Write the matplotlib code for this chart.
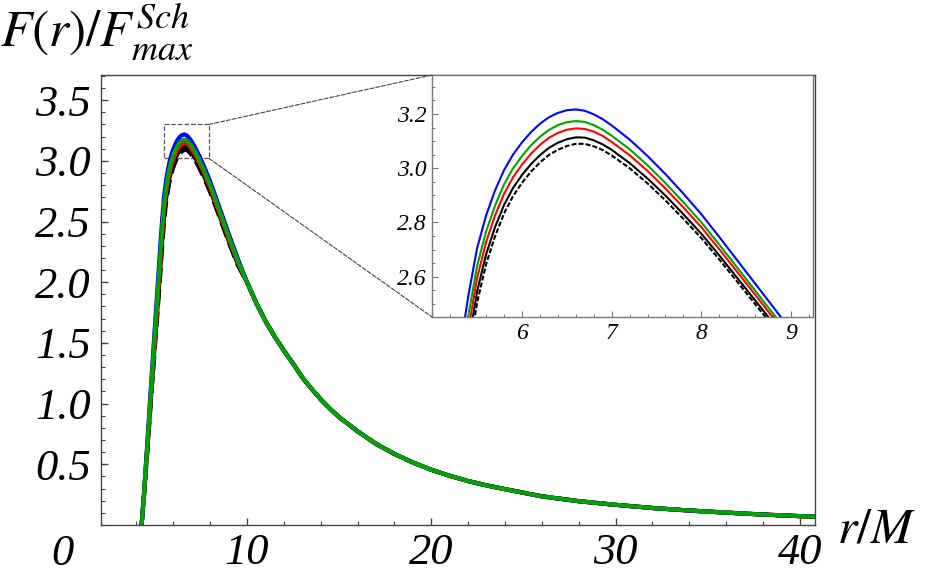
import matplotlib
matplotlib.use('Agg')
import matplotlib.pyplot as plt
from matplotlib.ticker import MultipleLocator
from matplotlib.patches import Rectangle, ConnectionPatch

plt.rcParams['mathtext.fontset'] = 'stix'

#  =========================================
#  	            Curve data (read off)
#  =========================================

# near region, one array per curve
rNear = [4.28, 4.4, 4.6, 4.8, 5.0, 5.2, 5.3, 5.4, 5.5, 5.6, 5.7, 5.8, 5.9, 6.0, 6.1, 6.2, 6.3, 6.4,
         6.5, 6.6, 6.7, 6.8, 6.9, 7.0, 7.2, 7.4, 7.6, 7.8, 8.0, 8.2, 8.4, 8.6, 8.8, 9.0, 9.5]
fBlue = [0.0, 0.240, 0.700, 1.170, 1.630, 2.080, 2.310, 2.525, 2.705, 2.825, 2.918, 2.993, 3.050, 3.095,
         3.133, 3.164, 3.188, 3.204, 3.214, 3.217, 3.212, 3.199, 3.181, 3.158, 3.106, 3.045, 2.978, 2.906,
         2.830, 2.746, 2.660, 2.574, 2.488, 2.402, 2.195]
fGreen = [0.0, 0.232, 0.676, 1.131, 1.576, 2.011, 2.235, 2.452, 2.639, 2.766, 2.862, 2.940, 2.999, 3.045,
          3.084, 3.116, 3.141, 3.159, 3.170, 3.174, 3.171, 3.159, 3.142, 3.120, 3.070, 3.011, 2.945, 2.874,
          2.800, 2.718, 2.633, 2.548, 2.463, 2.378, 2.175]
fRed = [0.0, 0.226, 0.660, 1.104, 1.539, 1.964, 2.183, 2.401, 2.595, 2.727, 2.826, 2.905, 2.966, 3.013,
        3.053, 3.086, 3.112, 3.130, 3.142, 3.147, 3.145, 3.135, 3.119, 3.097, 3.048, 2.990, 2.925, 2.855,
        2.782, 2.701, 2.617, 2.533, 2.448, 2.364, 2.165]
fBlack = [0.0, 0.220, 0.642, 1.075, 1.499, 1.913, 2.127, 2.347, 2.545, 2.682, 2.783, 2.864, 2.927, 2.975,
          3.015, 3.048, 3.075, 3.094, 3.107, 3.114, 3.113, 3.103, 3.088, 3.068, 3.019, 2.962, 2.899, 2.830,
          2.758, 2.678, 2.595, 2.512, 2.428, 2.345, 2.150]
fDashed = [0.0, 0.215, 0.627, 1.049, 1.464, 1.868, 2.078, 2.300, 2.504, 2.646, 2.749, 2.833, 2.897, 2.946,
           2.987, 3.021, 3.049, 3.068, 3.082, 3.090, 3.090, 3.081, 3.067, 3.047, 3.000, 2.944, 2.881, 2.813,
           2.742, 2.663, 2.581, 2.498, 2.416, 2.333, 2.140]

# far region, all curves coincide here
rTail = [10, 10.5, 11, 11.5, 12, 12.5, 13, 13.5, 14, 14.5, 15, 16, 17, 18, 19, 20, 21, 22, 23, 24,
         26, 28, 30, 32, 34, 36, 38, 40, 41]
fTail = [2.000, 1.830, 1.680, 1.552, 1.437, 1.330, 1.215, 1.122, 1.035, 0.958, 0.888, 0.772, 0.668, 0.585,
         0.515, 0.455, 0.405, 0.362, 0.326, 0.295, 0.236, 0.196, 0.166, 0.140, 0.119, 0.102, 0.086, 0.073, 0.068]

yTicksMain = [0.5, 1.0, 1.5, 2.0, 2.5, 3.0, 3.5]
xTicksMain = [10, 20, 30, 40]
yTicksIns = [2.6, 2.8, 3.0, 3.2]
xTicksIns = [6, 7, 8, 9]

CURVES = [(fDashed, 'black', (0, (2.4, 1.0))), (fBlack, 'black', '-'), (fRed, '#ff0000', '-'),
          (fBlue, '#0000ff', '-'), (fGreen, '#00a000', '-')]

#  =========================================
#  	            Figure
#  =========================================

TICK_FONT = dict(family='Liberation Serif', style='italic')
fig = plt.figure(figsize=(9.27, 5.73), dpi=100)
ax = fig.add_axes([0.1086, 0.0838, 0.7706, 0.7853])
axIns = fig.add_axes([0.4660, 0.4468, 0.4110, 0.4223])

rFull = rNear + rTail
for fVals, color, ls in CURVES:
    ax.plot(rFull, fVals + fTail, color=color, lw=3.0, linestyle=ls if ls == '-' else '--', solid_capstyle='round')
    axIns.plot(rNear, fVals, color=color, lw=1.5, linestyle=ls)

# main axes
ax.set_xlim(2.06, 40.82)
ax.set_ylim(0, 3.707)
ax.set_yticks(yTicksMain, [f'{v:.1f}' for v in yTicksMain], fontsize=32, **TICK_FONT)
ax.set_xticks(xTicksMain, [str(v) for v in xTicksMain], fontsize=32, **TICK_FONT)
ax.yaxis.set_minor_locator(MultipleLocator(0.1))
ax.xaxis.set_minor_locator(MultipleLocator(2))
ax.tick_params(which='both', direction='in', top=False, right=False, color='#444444')
ax.tick_params(which='major', length=5, width=1.0)
ax.tick_params(which='minor', length=3, width=0.8)
ax.tick_params(axis='y', pad=7)
ax.tick_params(axis='x', pad=6)
for sp in ax.spines.values():
    sp.set_color('#444444'); sp.set_linewidth(1.0)
# the "0" label sits left of the frame, as in the original
fig.text(0.0676, 0.068, '0', ha='center', va='top', fontsize=32, **TICK_FONT)

# zoom box and guide lines
ax.add_patch(Rectangle((5.5, 3.02), 2.44, 0.28, fill=False, ls='--', lw=0.9, ec='#555555'))
for xyA, xyB in [((7.94, 3.30), (0, 1)), ((7.94, 3.02), (0, 0))]:
    con = ConnectionPatch(xyA=xyA, coordsA='data', axesA=ax, xyB=xyB, coordsB='axes fraction',
                          axesB=axIns, ls='--', lw=0.8, color='#444444')
    fig.add_artist(con)

# inset
axIns.set_xlim(4.997, 9.244)
axIns.set_ylim(2.451, 3.344)
axIns.set_xticks(xTicksIns, [str(v) for v in xTicksIns], fontsize=17, **TICK_FONT)
axIns.set_yticks(yTicksIns, [f'{v:.1f}' for v in yTicksIns], fontsize=17, **TICK_FONT)
axIns.xaxis.set_minor_locator(MultipleLocator(0.2))
axIns.yaxis.set_minor_locator(MultipleLocator(0.05))
axIns.tick_params(which='both', direction='in', top=False, right=False, color='#777777')
axIns.tick_params(which='major', length=4, width=0.8, pad=4)
axIns.tick_params(which='minor', length=2.2, width=0.7)
for sp in axIns.spines.values():
    sp.set_color('#777777'); sp.set_linewidth(1.0)

# axis labels
fig.text(0.0, 0.997, r'$F(r)/F^{Sch}_{max}$', ha='left', va='top', fontsize=37)
fig.text(0.903, 0.078, r'$r/M$', ha='left', va='center', fontsize=36)

fig.savefig('out.png', dpi=100)
